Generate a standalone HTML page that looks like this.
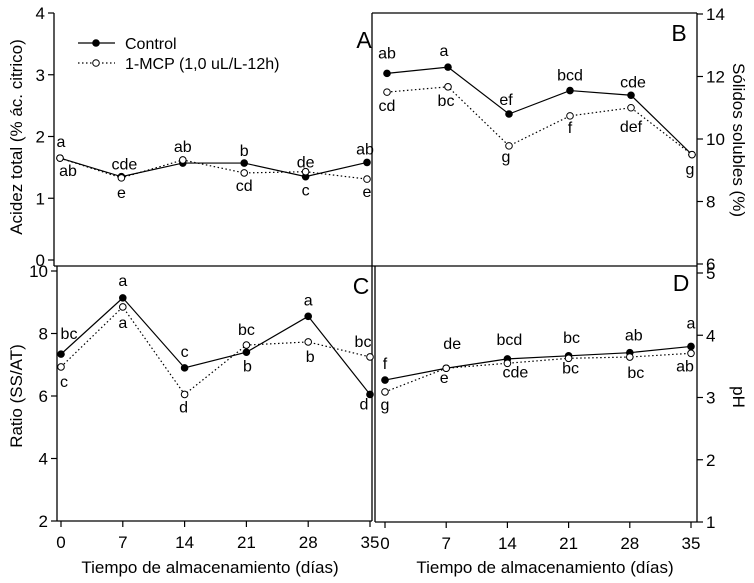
<!DOCTYPE html>
<html><head><meta charset="utf-8"><style>
html,body{margin:0;padding:0;background:#fff;}
svg{display:block;font-family:"Liberation Sans",sans-serif;}
</style></head><body>
<svg id="chart" width="754" height="583" viewBox="0 0 754 583" xmlns="http://www.w3.org/2000/svg"></svg>
<script>
const days = [0, 7, 14, 21, 28, 35];
const xTickLabels = ["0", "7", "14", "21", "28", "35"];
// Panel A: Acidez total
const acidControl = [1.65, 1.35, 1.57, 1.57, 1.35, 1.58];
const acidMCP = [1.65, 1.33, 1.62, 1.41, 1.43, 1.31];
const acidCtrlLbl = ["a", "cde", "", "b", "c", "ab"];
const acidMcpLbl = ["ab", "e", "ab", "cd", "de", "e"];
const acidTicks = [0, 1, 2, 3, 4];
// Panel B: Solidos solubles
const ssControl = [12.1, 12.3, 10.8, 11.55, 11.4, 9.5];
const ssMCP = [11.5, 11.67, 9.78, 10.74, 11.0, 9.5];
const ssCtrlLbl = ["ab", "a", "ef", "bcd", "cde", ""];
const ssMcpLbl = ["cd", "bc", "g", "f", "def", "g"];
const ssTicks = [6, 8, 10, 12, 14];
// Panel C: Ratio
const ratioControl = [7.34, 9.14, 6.9, 7.4, 8.55, 6.05];
const ratioMCP = [6.93, 8.85, 6.05, 7.63, 7.73, 7.25];
const ratioCtrlLbl = ["bc", "a", "c", "b", "a", "d"];
const ratioMcpLbl = ["c", "a", "d", "bc", "b", "bc"];
const ratioTicks = [2, 4, 6, 8, 10];
// Panel D: pH
const phControl = [3.28, 3.47, 3.62, 3.67, 3.72, 3.82];
const phMCP = [3.09, 3.47, 3.55, 3.63, 3.65, 3.71];
const phCtrlLbl = ["f", "de", "bcd", "bc", "ab", "a"];
const phMcpLbl = ["g", "e", "cde", "bc", "bc", "ab"];
const phTicks = [1, 2, 3, 4, 5];

const svg = document.getElementById('chart');
const NS = 'http://www.w3.org/2000/svg';
function mk(tag, attrs, parent, text) {
  const e = document.createElementNS(NS, tag);
  for (const k in attrs) e.setAttribute(k, attrs[k]);
  if (text !== undefined) e.textContent = text;
  (parent || svg).appendChild(e);
  return e;
}

function panel(o) {
  const g = mk('g', {});
  
  
  const xs = d => o.x0 + (d - 0) * (o.x35 - o.x0) / 35;
  const ys = v => o.yTop + (o.vMax - v) * (o.yBot - o.yTop) / (o.vMax - o.vMin);
  o.frame.forEach(f => {
    const l = mk('line', {x1: f[0], y1: f[1], x2: f[2], y2: f[3], stroke: '#000', 'stroke-width': 1.3}, g);
    
    
  });
  const ax = o.axisX, dir = o.axisSide === 'left' ? -1 : 1;
  o.ticks.forEach(t => {
    const y = ys(t);
    mk('line', {x1: ax, y1: y, x2: ax + dir * 6, y2: y, stroke: '#000', 'stroke-width': 1.2}, g);
    const tx = mk('text', {x: ax + dir * 9, y: y + 6, 'font-size': 17, 'text-anchor': dir < 0 ? 'end' : 'start'}, g, String(t));
    
    
  });
  if (o.xTicks) {
    days.forEach((d, i) => {
      const x = xs(d);
      mk('line', {x1: x, y1: o.yAxisBottom, x2: x, y2: o.yAxisBottom + 6, stroke: '#000', 'stroke-width': 1.2}, g);
      const tx = mk('text', {x: x, y: o.yAxisBottom + 27, 'font-size': 17, 'text-anchor': 'middle'}, g, xTickLabels[i]);
      
      
    });
  }
  const mcpPts = days.map((d, i) => xs(d) + ',' + ys(o.mcp[i])).join(' ');
  const ctlPts = days.map((d, i) => xs(d) + ',' + ys(o.ctrl[i])).join(' ');
  const l2 = mk('polyline', {points: mcpPts, fill: 'none', stroke: '#000', 'stroke-width': 1.2, 'stroke-dasharray': '1.5,2.5'}, g);
  
  
  const l1 = mk('polyline', {points: ctlPts, fill: 'none', stroke: '#000', 'stroke-width': 1.2}, g);
  
  
  days.forEach((d, i) => {
    const c = mk('circle', {cx: xs(d), cy: ys(o.ctrl[i]), r: 3.8, fill: '#000'}, g);
    
    
    const m = mk('circle', {cx: xs(d), cy: ys(o.mcp[i]), r: 3.3, fill: '#fff', stroke: '#000', 'stroke-width': 1}, g);
    
    
  });
  days.forEach((d, i) => {
    if (o.cl[i]) {
      const t = mk('text', {x: xs(d) + o.cdx[i], y: ys(o.ctrl[i]) + o.cdy[i] + 5, 'font-size': 16, 'text-anchor': 'middle'}, g, o.cl[i]);
      
      
    }
    if (o.ml[i]) {
      const t = mk('text', {x: xs(d) + o.mdx[i], y: ys(o.mcp[i]) + o.mdy[i] + 5, 'font-size': 16, 'text-anchor': 'middle'}, g, o.ml[i]);
      
      
    }
  });
  const pl = mk('text', {x: o.letterX, y: o.letterY, 'font-size': 23, 'text-anchor': 'middle'}, g, o.letter);
  
  
}

panel({name: 'panel-a-acidity', x0: 60, x35: 367, yTop: 13, yBot: 260, vMin: 0, vMax: 4,
  frame: [[54, 13, 54, 266], [54, 266, 372, 266], [372, 13, 372, 266]],
  axisX: 54, axisSide: 'left', ticks: acidTicks, ctrl: acidControl, mcp: acidMCP,
  cl: acidCtrlLbl, ml: acidMcpLbl,
  cdx: [1, 3, 0, 0, 0, -2], cdy: [-16, -12, 0, -12, 14, -13],
  mdx: [8, 0, 0, 0, 0, 0], mdy: [13, 15, -13, 13, -9, 13],
  letter: 'A', letterX: 364, letterY: 48});
panel({name: 'panel-b-soluble-solids', x0: 387, x35: 692, yTop: 14, yBot: 264, vMin: 6, vMax: 14,
  frame: [[372, 13, 697, 13], [372, 266, 697, 266], [697, 13, 697, 266]],
  axisX: 697, axisSide: 'right', ticks: ssTicks, ctrl: ssControl, mcp: ssMCP,
  cl: ssCtrlLbl, ml: ssMcpLbl,
  cdx: [0, -4, -3, 0, 2, 0], cdy: [-20, -16, -14, -15, -13, 0],
  mdx: [0, -2, -3, 0, 0, -2], mdy: [14, 14, 11, 12, 19, 15],
  letter: 'B', letterX: 679, letterY: 41});
panel({name: 'panel-c-ratio', x0: 61, x35: 370, yTop: 271, yBot: 521, vMin: 2, vMax: 10,
  frame: [[57, 266, 57, 521], [57, 521, 372, 521], [372, 266, 372, 521]],
  axisX: 57, axisSide: 'left', ticks: ratioTicks, ctrl: ratioControl, mcp: ratioMCP,
  cl: ratioCtrlLbl, ml: ratioMcpLbl, xTicks: true, yAxisBottom: 521,
  cdx: [8, 0, 0, 1, 0, -6], cdy: [-20, -17, -16, 14, -16, 10],
  mdx: [3, 0, -1, 0, 2, -7], mdy: [15, 16, 13, -15, 15, -15],
  letter: 'C', letterX: 361, letterY: 294});
panel({name: 'panel-d-ph', x0: 385, x35: 691, yTop: 273, yBot: 522, vMin: 1, vMax: 5,
  frame: [[375, 266, 375, 522], [375, 522, 697, 522], [697, 266, 697, 522]],
  axisX: 697, axisSide: 'right', ticks: phTicks, ctrl: phControl, mcp: phMCP,
  cl: phCtrlLbl, ml: phMcpLbl, xTicks: true, yAxisBottom: 522,
  cdx: [0, 6, 2, 3, 4, 0], cdy: [-16, -24, -19, -18, -17, -23],
  mdx: [0, -2, 8, 2, 6, -6], mdy: [13, 10, 9, 10, 16, 13],
  letter: 'D', letterX: 681, letterY: 291});

const lg = mk('g', {});


mk('line', {x1: 78, y1: 43, x2: 115, y2: 43, stroke: '#000', 'stroke-width': 1.2}, lg);
mk('circle', {cx: 96, cy: 43, r: 3.8, fill: '#000'}, lg);
const lt1 = mk('text', {x: 125, y: 49, 'font-size': 16}, lg, 'Control');


mk('line', {x1: 78, y1: 63, x2: 115, y2: 63, stroke: '#000', 'stroke-width': 1.2, 'stroke-dasharray': '1.5,2.5'}, lg);
mk('circle', {cx: 96, cy: 63, r: 3.3, fill: '#fff', stroke: '#000'}, lg);
const lt2 = mk('text', {x: 125, y: 69, 'font-size': 16}, lg, '1-MCP (1,0 uL/L-12h)');



function title(txt, x, y, rot, name) {
  const t = mk('text', {x: x, y: y, 'font-size': 17, 'text-anchor': 'middle', transform: rot ? `rotate(${rot} ${x} ${y})` : ''}, svg, txt);
  
  
}
title('Acidez total (% ác. citrico)', 22, 137, -90, 'y-axis-title-acidity');
title('Ratio (SS/AT)', 22, 396, -90, 'y-axis-title-ratio');
title('Sólidos solubles (%)', 733, 140, 90, 'y-axis-title-solids');
title('pH', 733, 397, 90, 'y-axis-title-ph');
title('Tiempo de almacenamiento (días)', 210, 573, 0, 'x-axis-title-left');
title('Tiempo de almacenamiento (días)', 545, 573, 0, 'x-axis-title-right');
</script>
</body></html>
